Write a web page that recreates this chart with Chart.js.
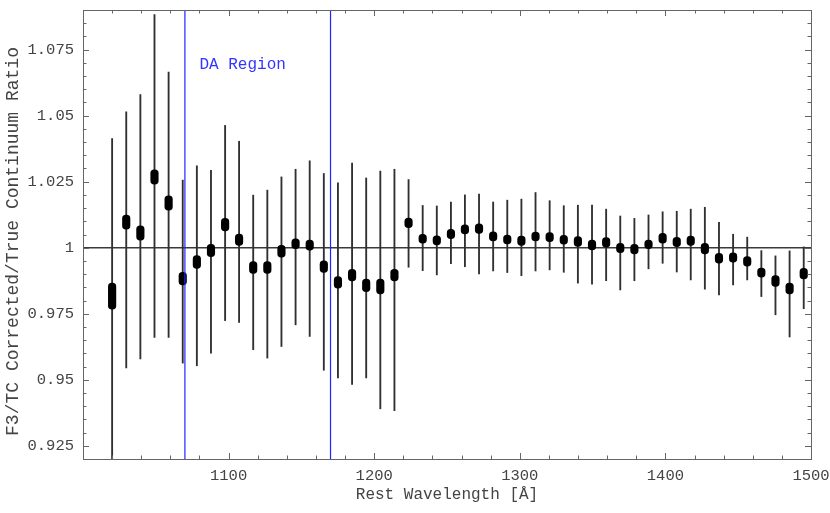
<!DOCTYPE html>
<html>
<head>
<meta charset="utf-8">
<script src="https://cdn.jsdelivr.net/npm/chart.js@4.4.0/dist/chart.umd.min.js"></script>
<style>
  body { margin: 0; background: #fff; }
  canvas { display: block; }
</style>
</head>
<body>
<canvas id="ratioChart" width="830" height="513"></canvas>
<script>
// rest wavelength of each bin
const wavelength = [
  1020.0, 1029.7, 1039.4, 1049.1, 1058.8, 1068.5, 1078.2, 1087.9, 1097.6, 1107.2,
  1116.9, 1126.6, 1136.3, 1146.0, 1155.7, 1165.4, 1175.1, 1184.8, 1194.5, 1204.2,
  1213.9, 1223.6, 1233.3, 1243.0, 1252.7, 1262.3, 1272.0, 1281.7, 1291.4, 1301.1,
  1310.8, 1320.5, 1330.2, 1339.9, 1349.6, 1359.3, 1369.0, 1378.7, 1388.4, 1398.1,
  1407.8, 1417.4, 1427.1, 1436.8, 1446.5, 1456.2, 1465.9, 1475.6, 1485.3, 1495.0
];

// thick marker: lower / upper end
const markLow = [
  0.9767, 1.0070, 1.0029, 1.0241, 1.0142, 0.9859, 0.9922, 0.9966, 1.0064, 1.0009,
  0.9903, 0.9903, 0.9964, 0.9996, 0.9991, 0.9906, 0.9847, 0.9874, 0.9834, 0.9825,
  0.9874, 1.0076, 1.0017, 1.0011, 1.0034, 1.0052, 1.0054, 1.0026, 1.0014, 1.0009,
  1.0026, 1.0023, 1.0013, 1.0005, 0.9992, 1.0002, 0.9981, 0.9976, 0.9996, 1.0017,
  1.0004, 1.0009, 0.9976, 0.9941, 0.9945, 0.9930, 0.9888, 0.9853, 0.9825, 0.9882
];
const markHigh = [
  0.9866, 1.0124, 1.0083, 1.0295, 1.0196, 0.9907, 0.9970, 1.0013, 1.0111, 1.0052,
  0.9947, 0.9947, 1.0009, 1.0034, 1.0029, 0.9950, 0.9891, 0.9918, 0.9881, 0.9881,
  0.9918, 1.0112, 1.0051, 1.0045, 1.0070, 1.0087, 1.0090, 1.0060, 1.0048, 1.0044,
  1.0059, 1.0057, 1.0047, 1.0042, 1.0029, 1.0038, 1.0017, 1.0013, 1.0029, 1.0054,
  1.0039, 1.0044, 1.0017, 0.9979, 0.9981, 0.9966, 0.9923, 0.9894, 0.9866, 0.9922
];

// thin error bars: lower / upper end
const errLow = [
  0.9100, 0.9545, 0.9579, 0.9660, 0.9660, 0.9563, 0.9553, 0.9601, 0.9724, 0.9717,
  0.9614, 0.9582, 0.9626, 0.9708, 0.9664, 0.9536, 0.9507, 0.9482, 0.9507, 0.9390,
  0.9383, 0.9926, 0.9913, 0.9897, 0.9940, 0.9928, 0.9901, 0.9912, 0.9906, 0.9894,
  0.9912, 0.9916, 0.9907, 0.9866, 0.9862, 0.9875, 0.9840, 0.9875, 0.9920, 0.9941,
  0.9908, 0.9878, 0.9843, 0.9821, 0.9859, 0.9878, 0.9815, 0.9746, 0.9662, 0.9769
];
const errHigh = [
  1.0413, 1.0514, 1.0580, 1.0883, 1.0665, 1.0256, 1.0310, 1.0293, 1.0463, 1.0403,
  1.0199, 1.0218, 1.0268, 1.0297, 1.0329, 1.0281, 1.0246, 1.0320, 1.0264, 1.0290,
  1.0297, 1.0258, 1.0160, 1.0158, 1.0173, 1.0200, 1.0203, 1.0173, 1.0180, 1.0184,
  1.0209, 1.0178, 1.0159, 1.0161, 1.0161, 1.0146, 1.0120, 1.0111, 1.0124, 1.0136,
  1.0138, 1.0146, 1.0153, 1.0096, 1.0051, 1.0040, 0.9989, 0.9969, 0.9988, 1.0003
];

const xTicks = [1100, 1200, 1300, 1400, 1500];
const xTickLabels = ["1100", "1200", "1300", "1400", "1500"];
const yTicks = [0.925, 0.95, 0.975, 1, 1.025, 1.05, 1.075];
const yTickLabels = ["0.925", "0.95", "0.975", "1", "1.025", "1.05", "1.075"];

const daRegion = [1070, 1170];
const daLabel = "DA Region";
const refLevel = 1;
const yTitle = "F3/TC Corrected/True Continuum Ratio";

const mono = "'Liberation Mono', 'Courier New', monospace";
const labelColor = "#444";

// frame with inward ticks on all four sides, reference line, DA region
const framePlugin = {
  id: "framePlugin",
  beforeDatasetsDraw(chart) {
    const { ctx, chartArea: a, scales: { y } } = chart;
    const py = y.getPixelForValue(refLevel);
    ctx.save();
    ctx.strokeStyle = "#3a3a3a";
    ctx.lineWidth = 1.4;
    ctx.beginPath();
    ctx.moveTo(a.left, py);
    ctx.lineTo(a.right, py);
    ctx.stroke();
    ctx.restore();
  },
  afterDatasetsDraw(chart) {
    const { ctx, chartArea: a, scales: { x } } = chart;
    ctx.save();
    ctx.strokeStyle = "#2323ff";
    ctx.lineWidth = 1.2;
    daRegion.forEach(v => {
      const px = x.getPixelForValue(v);
      ctx.beginPath();
      ctx.moveTo(px, a.top);
      ctx.lineTo(px, a.bottom);
      ctx.stroke();
    });
    ctx.fillStyle = "#3434ff";
    ctx.font = "16px " + mono;
    ctx.textBaseline = "alphabetic";
    ctx.fillText(daLabel, x.getPixelForValue(daRegion[0]) + 14.5, 68.5);
    ctx.restore();
  },
  afterDraw(chart) {
    const { ctx, chartArea: a, scales: { x, y } } = chart;
    ctx.save();
    ctx.strokeStyle = "#666";
    ctx.lineWidth = 1;
    ctx.strokeRect(a.left + 0.5, a.top + 0.5, a.width, a.height);
    ctx.beginPath();
    for (let k = 50; k <= 75; k++) {
      const px = Math.round(x.getPixelForValue(k * 20)) + 0.5;
      const len = k % 5 === 0 ? 6 : 3.5;
      ctx.moveTo(px, a.bottom); ctx.lineTo(px, a.bottom - len);
      ctx.moveTo(px, a.top); ctx.lineTo(px, a.top + len);
    }
    for (let k = 184; k <= 218; k++) {
      const py = Math.round(y.getPixelForValue(k / 200)) + 0.5;
      const len = k % 5 === 0 ? 6 : 3.5;
      ctx.moveTo(a.left, py); ctx.lineTo(a.left + len, py);
      ctx.moveTo(a.right, py); ctx.lineTo(a.right - len, py);
    }
    ctx.stroke();

    // y axis title, sitting a little below the plot centre as in the source
    ctx.translate(13, (a.top + a.bottom) / 2 + 7);
    ctx.rotate(-Math.PI / 2);
    ctx.fillStyle = labelColor;
    ctx.font = "18px " + mono;
    ctx.textAlign = "center";
    ctx.textBaseline = "middle";
    ctx.fillText(yTitle, 0, 0);
    ctx.restore();
  }
};

const errData = wavelength.map((w, i) => ({ x: w, y: [errLow[i], errHigh[i]] }));
const markData = wavelength.map((w, i) => ({ x: w, y: [markLow[i], markHigh[i]] }));

new Chart(document.getElementById("ratioChart"), {
  type: "bar",
  data: {
    datasets: [
      {
        label: "ratio",
        data: markData,
        backgroundColor: "#000",
        barThickness: 7.5,
        borderRadius: 4,
        borderSkipped: false,
        grouped: false,
        order: 1
      },
      {
        label: "error",
        data: errData,
        backgroundColor: "#303030",
        barThickness: 1.2,
        borderWidth: 0,
        grouped: false,
        order: 2
      }
    ]
  },
  options: {
    responsive: false,
    animation: false,
    devicePixelRatio: 1,
    layout: { padding: { top: 10, right: 19, left: 0, bottom: 0 } },
    plugins: { legend: { display: false }, tooltip: { enabled: false } },
    scales: {
      x: {
        type: "linear",
        min: 1000,
        max: 1500,
        offset: false,
        grid: { display: false, drawTicks: false },
        border: { display: false },
        afterBuildTicks: s => { s.ticks = xTicks.map(v => ({ value: v })); },
        ticks: {
          autoSkip: false,
          maxRotation: 0,
          padding: 8,
          color: labelColor,
          font: { family: mono, size: 15.5 },
          callback: (v, i) => xTickLabels[i]
        },
        title: {
          display: true,
          text: "Rest Wavelength [Å]",
          color: labelColor,
          font: { family: mono, size: 16 },
          padding: { top: 0, bottom: 9 }
        },
        afterFit: s => { s.height = 54; s.paddingLeft = 0; s.paddingRight = 0; }
      },
      y: {
        min: 0.92,
        max: 1.09,
        grid: { display: false, drawTicks: false },
        border: { display: false },
        afterBuildTicks: s => { s.ticks = yTicks.map(v => ({ value: v })); },
        ticks: {
          padding: 9,
          color: labelColor,
          font: { family: mono, size: 15.5 },
          callback: (v, i) => yTickLabels[i]
        },
        afterFit: s => { s.width = 83; s.paddingTop = 0; s.paddingBottom = 0; }
      }
    }
  },
  plugins: [framePlugin]
});
</script>
</body>
</html>
